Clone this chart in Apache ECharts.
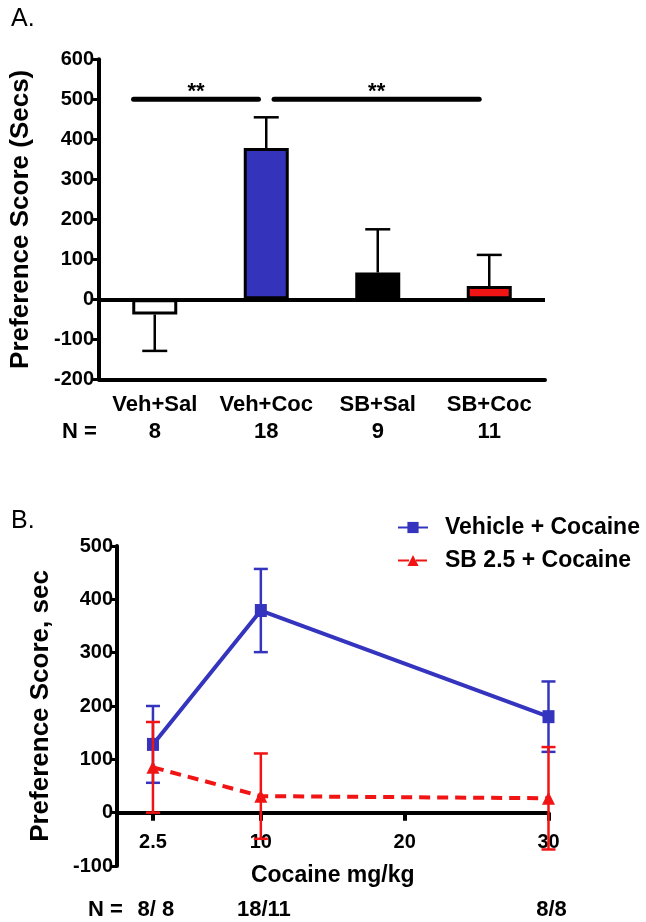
<!DOCTYPE html>
<html><head><meta charset="utf-8">
<script src="https://cdn.jsdelivr.net/npm/echarts@6/dist/echarts.min.js"></script>
<style>html,body{margin:0;padding:0;background:#fff}#c{width:646px;height:922px}</style>
</head><body><div id="c"></div>
<script>
// ---------- Panel A data ----------
const groupsA = ['Veh+Sal', 'Veh+Coc', 'SB+Sal', 'SB+Coc'];
const meanA = [-38, 378, 67, 33];
const semA = [91, 77, 108, 78];
const nA = ['8', '18', '9', '11'];
const sigFrom = [0, 1];
const sigTo = [1, 3];
const sigLevel = 500;
const sigLabel = '**';

// ---------- Panel B data ----------
const doses = [2.5, 10, 30];
const vehMean = [128, 379, 180];
const vehSem = [72, 78, 66];
const sbMean = [85, 31, 27];
const sbSem = [85, 80, 96];
const nB = ['8/ 8', '18/11', '8/8'];
const xTicksB = [2.5, 10, 20, 30];

const FF = '"Liberation Sans", Arial, sans-serif';
const BLUE = '#3434bf';
const RED = '#f01414';
const barColors = ['#ffffff', '#3333bb', '#000000', '#f01414'];

const chart = echarts.init(document.getElementById('c'));

function errA(params, api) {
  const i = api.value(0), m = api.value(1), s = api.value(2);
  const end = m + (m < 0 ? -s : s);
  const p0 = api.coord([i, m]);
  const p1 = api.coord([i, end]);
  const hw = 12.5;
  const st = {stroke: '#000', lineWidth: 2.5};
  return {type: 'group', children: [
    {type: 'line', shape: {x1: p0[0], y1: p0[1], x2: p1[0], y2: p1[1]}, style: st},
    {type: 'line', shape: {x1: p1[0] - hw, y1: p1[1], x2: p1[0] + hw, y2: p1[1]}, style: st}
  ]};
}

function makeErrB(color) {
  return function (params, api) {
    const x = api.value(0), m = api.value(1), s = api.value(2);
    const t = api.coord([x, m + s]);
    const b = api.coord([x, m - s]);
    const hw = 7;
    const st = {stroke: color, lineWidth: 2.5};
    return {type: 'group', children: [
      {type: 'line', shape: {x1: t[0], y1: t[1], x2: b[0], y2: b[1]}, style: st},
      {type: 'line', shape: {x1: t[0] - hw, y1: t[1], x2: t[0] + hw, y2: t[1]}, style: st},
      {type: 'line', shape: {x1: b[0] - hw, y1: b[1], x2: b[0] + hw, y2: b[1]}, style: st}
    ]};
  };
}

const sigStartTrim = [-0.19, 0.07];
const sigEndTrim = [-0.07, -0.09];

// panel B: the x axis sits on y = 0, i.e. 1/6 of the plot height above the bottom
const gridBHeight = 320;
const zeroOffsetB = -gridBHeight / 6;

const option = {
  animation: false,
  backgroundColor: '#fff',
  textStyle: {fontFamily: FF},
  grid: [
    {left: 99, top: 59.3, width: 446, height: 320, outerBoundsMode: 'none', containLabel: false},
    {left: 117, top: 546, width: 431.5, height: gridBHeight, outerBoundsMode: 'none', containLabel: false}
  ],
  legend: {
    orient: 'vertical', left: 392, top: 511,
    itemWidth: 30, itemHeight: 14, itemGap: 10,
    textStyle: {fontSize: 23, fontWeight: 'bold', color: '#000', fontFamily: FF, padding: [0, 0, 0, 12]},
    data: ['Vehicle + Cocaine', 'SB 2.5 + Cocaine']
  },
  xAxis: [
    {
      type: 'category', gridIndex: 0, data: groupsA,
      axisLine: {onZero: false, lineStyle: {color: '#000', width: 4}},
      axisTick: {alignWithLabel: true, length: 9, lineStyle: {color: '#000', width: 4}},
      axisLabel: {interval: 0, hideOverlap: false, fontSize: 22, fontWeight: 'bold', color: '#000', margin: 15, fontFamily: FF},
      splitLine: {show: false}
    },
    {
      type: 'value', gridIndex: 1, min: 0, max: 30, position: 'bottom', offset: zeroOffsetB,
      axisLine: {onZero: false, lineStyle: {color: '#000', width: 4}},
      axisTick: {show: true, customValues: xTicksB, length: 8, lineStyle: {color: '#000', width: 4}},
      axisLabel: {customValues: xTicksB, fontSize: 20, fontWeight: 'bold', color: '#000', margin: 20, fontFamily: FF,
        formatter: v => String(v)},
      splitLine: {show: false},
      name: 'Cocaine mg/kg', nameLocation: 'middle', nameGap: 51,
      nameTextStyle: {fontSize: 23, fontWeight: 'bold', color: '#000', fontFamily: FF}
    }
  ],
  yAxis: [
    {
      type: 'value', gridIndex: 0, min: -200, max: 600, interval: 100,
      axisLine: {show: true, onZero: false, lineStyle: {color: '#000', width: 4}},
      axisTick: {show: true, length: 6, lineStyle: {color: '#000', width: 3}},
      axisLabel: {fontSize: 20, fontWeight: 'bold', color: '#000', margin: 5, fontFamily: FF},
      splitLine: {show: false},
      name: 'Preference Score (Secs)', nameLocation: 'middle', nameRotate: 90, nameGap: 65,
      nameTextStyle: {fontSize: 26, fontWeight: 'bold', color: '#000', fontFamily: FF}
    },
    {
      type: 'value', gridIndex: 1, min: -100, max: 500, interval: 100,
      axisLine: {show: true, onZero: false, lineStyle: {color: '#000', width: 4}},
      axisTick: {show: true, length: 6, lineStyle: {color: '#000', width: 3}},
      axisLabel: {fontSize: 20, fontWeight: 'bold', color: '#000', margin: 4, fontFamily: FF},
      splitLine: {show: false},
      name: 'Preference Score, sec', nameLocation: 'middle', nameRotate: 90, nameGap: 63,
      nameTextStyle: {fontSize: 26, fontWeight: 'bold', color: '#000', fontFamily: FF}
    }
  ],
  graphic: [
    {type: 'text', left: 11, top: 7, style: {text: 'A.', fontSize: 25, fill: '#000', fontFamily: FF}},
    {type: 'text', left: 11, top: 509, style: {text: 'B.', fontSize: 25, fill: '#000', fontFamily: FF}},
    {type: 'text', left: 62, top: 421, style: {text: 'N =', fontSize: 22, fontWeight: 'bold', fill: '#000', fontFamily: FF}},
    {type: 'text', left: 88, top: 899, style: {text: 'N =', fontSize: 22, fontWeight: 'bold', fill: '#000', fontFamily: FF}}
  ],
  series: [
    {
      type: 'bar', xAxisIndex: 0, yAxisIndex: 0, barWidth: 45, z: 3,
      data: meanA.map((v, i) => ({value: v, itemStyle: {color: barColors[i], borderColor: '#000', borderWidth: 3}})),
      markLine: {
        silent: true, symbol: 'none', label: {show: false},
        lineStyle: {color: '#000', width: 4, type: 'solid'},
        emphasis: {disabled: true},
        data: [{yAxis: 0}]
      }
    },
    {
      type: 'custom', xAxisIndex: 0, yAxisIndex: 0, z: 2, silent: true,
      encode: {x: 0, y: 1},
      data: meanA.map((m, i) => [i, m, semA[i]]),
      renderItem: errA
    },
    {
      type: 'custom', xAxisIndex: 0, yAxisIndex: 0, z: 4, silent: true,
      encode: {x: 0, y: 2},
      data: sigFrom.map((f, i) => [f, sigTo[i], sigLevel]),
      renderItem: function (params, api) {
        const k = params.dataIndex;
        const bw = api.size([1, 0])[0];
        const a = api.coord([api.value(0), api.value(2)]);
        const b = api.coord([api.value(1), api.value(2)]);
        const x1 = a[0] + sigStartTrim[k] * bw;
        const x2 = b[0] + sigEndTrim[k] * bw;
        return {type: 'group', children: [
          {type: 'line', shape: {x1: x1, y1: a[1], x2: x2, y2: a[1]}, style: {stroke: '#000', lineWidth: 5, lineCap: 'round'}},
          {type: 'text', x: (x1 + x2) / 2, y: a[1] + 4,
            style: {text: sigLabel, fontSize: 22, fontWeight: 'bold', fontFamily: FF, fill: '#000', align: 'center', verticalAlign: 'bottom'}}
        ]};
      }
    },
    {
      type: 'custom', xAxisIndex: 0, yAxisIndex: 0, silent: true,
      encode: {x: 0, y: 1},
      data: nA.map((n, i) => [i, -200]),
      renderItem: function (params, api) {
        const p = api.coord([api.value(0), api.value(1)]);
        return {type: 'text', x: p[0], y: p[1] + 53,
          style: {text: nA[params.dataIndex], fontSize: 22, fontWeight: 'bold', fontFamily: FF, fill: '#000', align: 'center', verticalAlign: 'middle'}};
      }
    },
    {
      name: 'Vehicle + Cocaine', type: 'line', xAxisIndex: 1, yAxisIndex: 1, z: 5,
      data: doses.map((d, i) => [d, vehMean[i]]),
      color: BLUE,
      lineStyle: {color: BLUE, width: 4},
      itemStyle: {color: BLUE},
      symbol: 'rect', symbolSize: [12, 13]
    },
    {
      name: 'SB 2.5 + Cocaine', type: 'line', xAxisIndex: 1, yAxisIndex: 1, z: 6,
      data: doses.map((d, i) => [d, sbMean[i]]),
      color: RED,
      lineStyle: {color: RED, width: 4, type: [11, 7]},
      itemStyle: {color: RED},
      symbol: 'triangle', symbolSize: 13
    },
    {
      type: 'custom', xAxisIndex: 1, yAxisIndex: 1, z: 5, silent: true,
      encode: {x: 0, y: 1},
      data: doses.map((d, i) => [d, vehMean[i], vehSem[i]]),
      renderItem: makeErrB(BLUE)
    },
    {
      type: 'custom', xAxisIndex: 1, yAxisIndex: 1, z: 6, silent: true,
      encode: {x: 0, y: 1},
      data: doses.map((d, i) => [d, sbMean[i], sbSem[i]]),
      renderItem: makeErrB(RED)
    },
    {
      type: 'custom', xAxisIndex: 1, yAxisIndex: 1, silent: true,
      encode: {x: 0, y: 1},
      data: doses.map(d => [d, -100]),
      renderItem: function (params, api) {
        const p = api.coord([api.value(0), api.value(1)]);
        return {type: 'text', x: p[0] + 3, y: p[1] + 44,
          style: {text: nB[params.dataIndex], fontSize: 22, fontWeight: 'bold', fontFamily: FF, fill: '#000', align: 'center', verticalAlign: 'middle'}};
      }
    }
  ]
};
chart.setOption(option);
</script>
</body></html>
